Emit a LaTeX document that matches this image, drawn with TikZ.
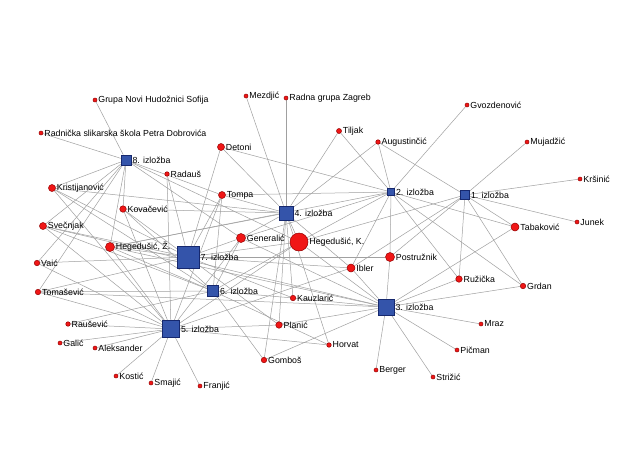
\documentclass[tikz,border=0pt]{standalone}
\usepackage{fontspec}
\setmainfont{Liberation Sans}
\usepackage{xcolor}
\usepackage{tikz}
\usetikzlibrary{backgrounds}

\definecolor{expoblue}{RGB}{52,84,170}
\definecolor{expoline}{RGB}{22,40,110}
\definecolor{artred}{RGB}{240,22,22}
\definecolor{artline}{RGB}{150,0,0}
\definecolor{linkgray}{RGB}{160,160,160}

\begin{document}
\begin{tikzpicture}[
  x=1pt, y=-1pt,
  expo/.style={rectangle, draw=expoline, fill=expoblue, line width=0.6pt, inner sep=0pt},
  artist/.style={circle, draw=artline, fill=artred, line width=0.5pt, inner sep=0pt},
  link/.style={draw=linkgray, line width=0.5pt},
  every label/.style={font=\fontsize{8.8}{10}\selectfont, inner sep=0.5pt},
  label distance=0.5pt
]
\useasboundingbox (0,0) rectangle (639,466);

% exhibitions
\node[expo, minimum size=9pt,  label=right:{1. izložba}] (e1) at (465,195) {};
\node[expo, minimum size=7pt,  label=right:{2. izložba}] (e2) at (391,192) {};
\node[expo, minimum size=16pt, label=right:{3. izložba}] (e3) at (386,307) {};
\node[expo, minimum size=14pt, label=right:{4. izložba}] (e4) at (286,213) {};
\node[expo, minimum size=17pt, label=right:{5. izložba}] (e5) at (171,329) {};
\node[expo, minimum size=11pt, label=right:{6. izložba}] (e6) at (213,291) {};
\node[expo, minimum size=22pt, label=right:{7. izložba}] (e7) at (188,257) {};
\node[expo, minimum size=10pt, label=right:{8. izložba}] (e8) at (126,160) {};

% artists
\node[artist, minimum size=4pt, label=right:{Grupa Novi Hudožnici Sofija}] (grupa) at (95,100) {};
\node[artist, minimum size=4pt, label=right:{Radnička slikarska škola Petra Dobrovića}] (radnicka) at (41,133) {};
\node[artist, minimum size=4pt, label=right:{Mezdjić}] (mezdjic) at (246,96) {};
\node[artist, minimum size=4pt, label=right:{Radna grupa Zagreb}] (radnagrupa) at (286,98) {};
\node[artist, minimum size=5pt, label=right:{Tiljak}] (tiljak) at (339,131) {};
\node[artist, minimum size=4.5pt, label=right:{Augustinčić}] (augustincic) at (378,142) {};
\node[artist, minimum size=4pt, label=right:{Gvozdenović}] (gvozdenovic) at (467,105) {};
\node[artist, minimum size=4pt, label=right:{Mujadžić}] (mujadzic) at (527,142) {};
\node[artist, minimum size=4pt, label=right:{Kršinić}] (krsinic) at (580,179) {};
\node[artist, minimum size=4pt, label=right:{Junek}] (junek) at (577,222) {};
\node[artist, minimum size=8pt, label=right:{Tabaković}] (tabakovic) at (515,227) {};
\node[artist, minimum size=7pt, label=right:{Detoni}] (detoni) at (221,147) {};
\node[artist, minimum size=4.5pt, label=right:{Radauš}] (radaus) at (167,174) {};
\node[artist, minimum size=7pt, label=right:{Tompa}] (tompa) at (222,195) {};
\node[artist, minimum size=7pt, label=right:{Kristijanović}] (kristij) at (52,188) {};
\node[artist, minimum size=6.5pt, label=right:{Kovačević}] (kovacevic) at (123,209) {};
\node[artist, minimum size=7pt, label=right:{Svečnjak}] (svecnjak) at (43,226) {};
\node[artist, minimum size=9pt, label=right:{Hegedušić, Ž.}] (hegz) at (110,247) {};
\node[artist, minimum size=5.5pt, label=right:{Vaić}] (vaic) at (37,263) {};
\node[artist, minimum size=5.5pt, label=right:{Tomašević}] (tomasevic) at (38,292) {};
\node[artist, minimum size=9pt, label=right:{Generalić}] (generalic) at (241,238) {};
\node[artist, minimum size=18pt, label=right:{Hegedušić, K.}] (hegk) at (299,242) {};
\node[artist, minimum size=8pt, label=right:{Ibler}] (ibler) at (351,268) {};
\node[artist, minimum size=9pt, label=right:{Postružnik}] (postruznik) at (390,257) {};
\node[artist, minimum size=6.5pt, label=right:{Ružička}] (ruzicka) at (459,279) {};
\node[artist, minimum size=5.5pt, label=right:{Grdan}] (grdan) at (523,286) {};
\node[artist, minimum size=5.5pt, label=right:{Kauzlarić}] (kauzlaric) at (293,298) {};
\node[artist, minimum size=6.5pt, label=right:{Planić}] (planic) at (279,325) {};
\node[artist, minimum size=4.5pt, label=right:{Horvat}] (horvat) at (329,345) {};
\node[artist, minimum size=5.5pt, label=right:{Gomboš}] (gombos) at (264,360) {};
\node[artist, minimum size=4pt, label=right:{Mraz}] (mraz) at (481,324) {};
\node[artist, minimum size=4pt, label=right:{Pičman}] (picman) at (457,350) {};
\node[artist, minimum size=4pt, label=right:{Berger}] (berger) at (376,370) {};
\node[artist, minimum size=4pt, label=right:{Strižić}] (strizic) at (433,377) {};
\node[artist, minimum size=4.5pt, label=right:{Raušević}] (rausevic) at (68,324) {};
\node[artist, minimum size=4pt, label=right:{Galić}] (galic) at (60,343) {};
\node[artist, minimum size=4pt, label=right:{Aleksander}] (aleksander) at (95,348) {};
\node[artist, minimum size=4pt, label=right:{Kostić}] (kostic) at (116,376) {};
\node[artist, minimum size=4pt, label=right:{Smajić}] (smajic) at (151,383) {};
\node[artist, minimum size=4pt, label=right:{Franjić}] (franjic) at (200,386) {};

\begin{scope}[on background layer]
\fill[white] (0,0) rectangle (639,466);
% who exhibited where
\foreach \a in {mujadzic, krsinic, junek, tabakovic, augustincic, ruzicka, grdan, ibler, hegk, postruznik}
  \draw[link] (e1) -- (\a);
\foreach \a in {gvozdenovic, tiljak, augustincic, detoni, tompa, postruznik, ibler, ruzicka, grdan, tabakovic, hegk, generalic, hegz}
  \draw[link] (e2) -- (\a);
\foreach \a in {berger, strizic, picman, mraz, grdan, ruzicka, postruznik, tabakovic, ibler, hegk, kauzlaric, planic, gombos, hegz, generalic, svecnjak, tomasevic}
  \draw[link] (e3) -- (\a);
\foreach \a in {mezdjic, radnagrupa, tiljak, augustincic, detoni, tompa, kovacevic, generalic, hegk, hegz, ibler, kauzlaric, planic, horvat, gombos, kristij}
  \draw[link] (e4) -- (\a);
\foreach \a in {kostic, smajic, franjic, galic, aleksander, rausevic, radaus, tomasevic, svecnjak, kristij, hegz, kovacevic, tompa, generalic, hegk, planic, horvat, ibler, vaic}
  \draw[link] (e5) -- (\a);
\foreach \a in {kristij, tomasevic, hegz, kovacevic, tompa, generalic, hegk, kauzlaric, gombos, horvat, rausevic, svecnjak}
  \draw[link] (e6) -- (\a);
\foreach \a in {hegz, vaic, kristij, svecnjak, kovacevic, tompa, detoni, generalic, hegk, ibler, planic, kauzlaric, postruznik, tomasevic, radaus}
  \draw[link] (e7) -- (\a);
\foreach \a in {grupa, radnicka, kristij, svecnjak, vaic, tomasevic, kovacevic, hegz, tompa, generalic, hegk}
  \draw[link] (e8) -- (\a);
\end{scope}
\end{tikzpicture}
\end{document}
